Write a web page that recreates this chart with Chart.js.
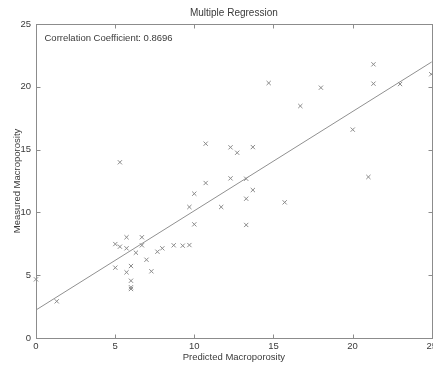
<!DOCTYPE html>
<html>
<head>
<meta charset="utf-8">
<script src="https://cdn.jsdelivr.net/npm/chart.js@4.4.1/dist/chart.umd.min.js"></script>
<style>
  html, body { margin: 0; padding: 0; background: #fff; overflow: hidden; }
  #wrap { position: absolute; left: 0; top: 0; width: 440px; height: 365px; }
</style>
</head>
<body>
<div id="wrap"><canvas id="c"></canvas></div>
<script>
// ---- data ----
const predicted = [0.0, 1.31, 5.01, 5.30, 5.72, 5.72, 6.69, 6.69, 6.31, 5.01, 6.00, 5.72, 6.00, 6.00, 6.00,
  6.98, 7.29, 7.67, 7.98, 8.70, 9.27, 9.69, 5.30, 9.69, 10.0, 10.0, 10.72, 10.72, 11.70, 12.29, 12.29,
  12.71, 13.28, 13.28, 13.28, 13.70, 13.70, 14.70, 15.71, 16.70, 18.00, 20.01, 21.00, 21.32, 21.32, 23.00, 24.97];
const measured = [4.67, 2.92, 7.48, 7.27, 8.02, 7.14, 8.02, 7.38, 6.79, 5.60, 5.73, 5.23, 4.56, 4.04, 3.90,
  6.23, 5.31, 6.87, 7.14, 7.38, 7.35, 7.40, 13.99, 10.43, 11.49, 9.05, 12.34, 15.47, 10.43, 12.71, 15.18,
  14.75, 12.68, 11.09, 9.00, 15.20, 11.78, 20.30, 10.80, 18.47, 19.93, 16.59, 12.82, 21.79, 20.25, 20.22, 21.00];
const fitX = [0, 25];
const fitY = [2.23, 21.98];
const xTicks = [0, 5, 10, 15, 20, 25];
const yTicks = [0, 5, 10, 15, 20, 25];
const titleText = 'Multiple Regression';
const xLabel = 'Predicted Macroporosity';
const yLabel = 'Measured Macroporosity';
const note = 'Correlation Coefficient: 0.8696';

const FONT = "'Liberation Sans', Arial, sans-serif";
const TEXT = '#3a3a3a';
const AXIS = '#8c8c8c';

const boxPlugin = {
  id: 'matlabBox',
  afterDraw(chart) {
    const ctx = chart.ctx;
    const a = chart.chartArea;
    const xs = chart.scales.x, ys = chart.scales.y;
    ctx.save();
    ctx.strokeStyle = AXIS;
    ctx.lineWidth = 1;
    const L = Math.round(a.left) + 0.5, R = Math.round(a.right) + 0.5;
    const T = Math.round(a.top) + 0.5, B = Math.round(a.bottom) + 0.5;
    ctx.strokeRect(L, T, R - L, B - T);
    ctx.beginPath();
    const tl = 4;
    xTicks.forEach(v => {
      const px = Math.round(xs.getPixelForValue(v)) + 0.5;
      ctx.moveTo(px, B); ctx.lineTo(px, B - tl);
      ctx.moveTo(px, T); ctx.lineTo(px, T + tl);
    });
    yTicks.forEach(v => {
      const py = Math.round(ys.getPixelForValue(v)) + 0.5;
      ctx.moveTo(L, py); ctx.lineTo(L + tl, py);
      ctx.moveTo(R, py); ctx.lineTo(R - tl, py);
    });
    ctx.stroke();
    ctx.fillStyle = TEXT;
    ctx.font = "9.5px " + FONT;
    ctx.textBaseline = 'middle';
    ctx.textAlign = 'left';
    ctx.fillText(note, a.left + 8.5, a.top + 14);
    ctx.restore();
  }
};

const points = predicted.map((x, i) => ({ x: x, y: measured[i] }));
const fit = fitX.map((x, i) => ({ x: x, y: fitY[i] }));

new Chart(document.getElementById('c'), {
  type: 'scatter',
  data: {
    datasets: [
      {
        type: 'line',
        data: fit,
        borderColor: '#909090',
        borderWidth: 1,
        pointRadius: 0,
        fill: false,
        clip: false
      },
      {
        data: points,
        pointStyle: 'crossRot',
        pointRadius: 3,
        borderColor: '#8a8a8a',
        borderWidth: 1,
        backgroundColor: '#8a8a8a',
        clip: false
      }
    ]
  },
  options: {
    responsive: true,
    maintainAspectRatio: false,
    animation: false,
    events: [],
    layout: { padding: { left: 0, right: 8, top: 0, bottom: 0 } },
    plugins: {
      legend: { display: false },
      tooltip: { enabled: false },
      title: {
        display: true,
        text: titleText,
        fullSize: false,
        color: TEXT,
        font: { family: FONT, size: 10, weight: 'normal' },
        padding: { top: 7, bottom: 5 }
      }
    },
    scales: {
      x: {
        type: 'linear',
        min: 0, max: 25,
        grid: { display: false, drawTicks: false },
        border: { display: false },
        afterBuildTicks(s) { s.ticks = xTicks.map(v => ({ value: v })); },
        afterFit(s) { s.height = 27; },
        ticks: {
          color: TEXT,
          padding: 3,
          maxRotation: 0,
          font: { family: FONT, size: 9.5 },
          callback: v => String(v)
        },
        title: {
          display: true,
          text: xLabel,
          color: TEXT,
          font: { family: FONT, size: 9.5 },
          padding: { top: 0, bottom: 2 }
        }
      },
      y: {
        type: 'linear',
        min: 0, max: 25,
        grid: { display: false, drawTicks: false },
        border: { display: false },
        afterBuildTicks(s) { s.ticks = yTicks.map(v => ({ value: v })); },
        afterFit(s) { s.width = 36; },
        ticks: {
          color: TEXT,
          padding: 5,
          font: { family: FONT, size: 9.5 },
          callback: v => String(v)
        },
        title: {
          display: true,
          text: yLabel,
          color: TEXT,
          font: { family: FONT, size: 9.5 },
          padding: { top: 12, bottom: 0 }
        }
      }
    }
  },
  plugins: [boxPlugin]
});
</script>
</body>
</html>
